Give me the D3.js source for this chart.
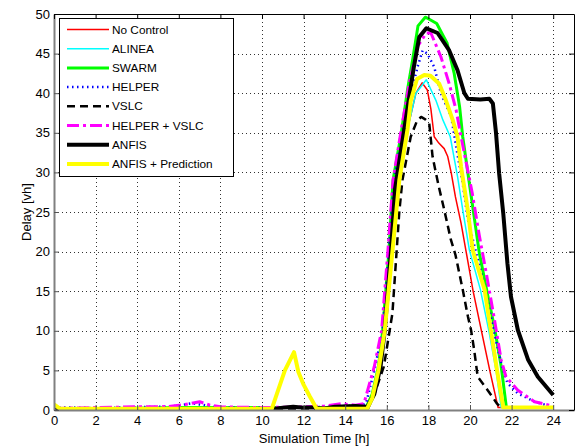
<!DOCTYPE html>
<html>
<head>
<meta charset="utf-8">
<script src="https://cdn.jsdelivr.net/npm/d3@7"></script>
<style>
  html, body { margin: 0; padding: 0; background: #fff; }
  svg { display: block; font-family: "Liberation Sans", Arial, sans-serif; }
</style>
</head>
<body>
<svg id="chart" width="577" height="446"></svg>
<script>
// Traffic delay over the simulated day, one series per control strategy: [hour, delay in vh]
const noControl = [[0,0.2],[3,0.2],[6,0.3],[9,0.3],[12,0.3],[15,0.4],[15.3,2],[15.6,5],[15.9,10],[16.25,20],[16.6,29],[17.0,35.5],[17.4,40],[17.7,41.3],[17.95,40.4],[18.12,38],[18.28,34.5],[18.5,33.7],[18.76,33],[18.93,32],[19.1,29.9],[19.3,26.9],[19.57,23.6],[19.8,20.2],[20.15,15],[20.55,10],[20.95,5],[21.35,0.3],[24,0.3]];
const alinea = [[0,0.2],[3,0.2],[6,0.3],[9,0.3],[12,0.3],[15,0.3],[15.3,2],[15.6,5],[15.9,10],[16.25,20],[16.6,29],[17.0,35.5],[17.4,40],[17.9,41.7],[18.36,39.1],[18.7,36.6],[19.05,34.5],[19.4,29.5],[19.65,25.3],[19.97,20.2],[20.5,15.2],[20.9,10.1],[21.25,5.05],[21.5,0.3],[24,0.3]];
const swarm = [[0,0.2],[3,0.2],[6,0.3],[9,0.3],[12,0.3],[15,0.3],[15.3,2],[15.6,5.5],[15.8,10],[16.1,20],[16.3,29],[16.7,35],[17.0,40.5],[17.24,44.2],[17.5,48.5],[17.85,49.6],[18.0,49.4],[18.4,48.8],[18.9,46.3],[19.24,42.5],[19.5,38.3],[19.65,34.5],[19.97,28.6],[20.2,24.4],[20.45,19.8],[20.85,14.5],[21.17,10.5],[21.5,5.5],[21.75,0.3],[24,0.3]];
const helper = [[0,0.3],[1,0.3],[2,0.25],[3,0.3],[4,0.35],[5,0.4],[5.8,0.5],[6.3,0.7],[6.65,0.85],[7,0.7],[7.5,0.5],[8,0.35],[9,0.3],[10,0.3],[11,0.3],[12,0.35],[13,0.4],[14,0.5],[14.8,0.6],[15.0,0.8],[15.4,5],[15.8,10],[16.1,20],[16.35,29],[16.8,35.5],[17.2,40.5],[17.5,43.5],[17.72,45.4],[17.95,45],[18.28,43.3],[18.6,40],[19.1,37],[19.35,33],[19.65,28.6],[19.9,24],[20.3,19.8],[20.7,15.5],[21.17,9.7],[21.5,5.9],[21.8,3.4],[22.3,2.1],[23.1,1.05],[23.7,0.6]];
const vslc = [[0,0.1],[3,0.1],[6,0.15],[9,0.15],[12,0.15],[15.1,0.2],[15.4,2],[15.86,5.5],[16.27,12.2],[16.6,25],[16.75,29],[17.15,34.5],[17.45,36.5],[17.65,37],[17.85,36.7],[18.04,36.2],[18.2,32],[18.3,30.7],[18.5,28.2],[18.76,25.3],[19.08,21.5],[19.3,19.6],[19.65,15.2],[19.9,11.8],[20.05,10.1],[20.2,7.6],[20.37,4.2],[20.85,2.5],[21.3,0.8],[21.5,0.3]];
const helperVslc = [[0,0.2],[1,0.25],[2,0.3],[3,0.35],[4,0.4],[5,0.4],[5.5,0.45],[6.3,0.7],[7.0,1.05],[7.5,0.6],[8,0.4],[9,0.35],[10,0.3],[11,0.35],[12,0.4],[13,0.5],[13.8,0.8],[14.5,0.6],[14.9,0.8],[15.4,5.5],[15.75,10],[16.05,20],[16.3,29],[16.7,35.5],[17.1,41.5],[17.5,46],[17.9,47.6],[18.12,47.6],[18.6,44.6],[19.0,41.2],[19.33,37.9],[19.57,34.5],[20.1,27.5],[20.45,22],[20.8,17],[21.17,11.5],[21.5,6.3],[21.73,4.2],[22.3,2.5],[23.1,1.05],[24,0.5]];
const anfis = [[0,0.1],[3,0.1],[6,0.1],[9,0.1],[10.5,0.1],[11,0.3],[11.5,0.4],[12,0.3],[12.5,0.3],[13,0.2],[13.5,0.4],[14.5,0.5],[15.0,0.4],[15.1,0.5],[15.4,2],[15.7,5.5],[15.9,10],[16.2,20],[16.4,28],[16.83,35.3],[17.3,43.3],[17.56,47.1],[17.9,48.2],[18.44,47.6],[19.0,45.4],[19.4,42.9],[19.73,40],[19.9,39.3],[20.5,39.2],[20.93,39.3],[21.1,38.7],[21.25,35],[21.4,29.9],[21.6,24.8],[21.8,18.5],[21.97,14.3],[22.3,10.1],[22.8,6.3],[23.26,4.2],[24.0,1.9]];
const anfisPrediction = [[0,0.7],[0.3,0.15],[10.47,0.15],[11.1,5],[11.54,7.3],[11.75,4.8],[12.0,3.2],[12.3,1.7],[12.63,0.15],[15.05,0.15],[15.3,1.5],[15.6,5],[15.9,10],[16.27,20],[16.6,29],[17.0,35.5],[17.15,39],[17.45,41.8],[17.8,42.3],[18.1,42.2],[18.52,41.2],[18.84,39.1],[19.17,36.6],[19.4,34.5],[19.57,30.7],[19.89,25.3],[20.13,20.2],[20.7,15.2],[21.0,10.1],[21.3,5],[21.6,0.3],[24,0.3]];

const seriesNames = ["No Control", "ALINEA", "SWARM", "HELPER", "VSLC", "HELPER + VSLC", "ANFIS", "ANFIS + Prediction"];
const xTicks = [0,2,4,6,8,10,12,14,16,18,20,22,24];
const yTicks = [0,5,10,15,20,25,30,35,40,45,50];

const styles = [
  { color: "#ff0000", width: 1.5, dash: null },
  { color: "#00ffff", width: 1.5, dash: null },
  { color: "#00ff00", width: 3, dash: null },
  { color: "#0000ff", width: 2.5, dash: "1.5,3.5" },
  { color: "#000000", width: 2.5, dash: "8,5" },
  { color: "#ff00ff", width: 3, dash: "12,4,3,4" },
  { color: "#000000", width: 4, dash: null },
  { color: "#ffff00", width: 4, dash: null }
];
const allSeries = [noControl, alinea, swarm, helper, vslc, helperVslc, anfis, anfisPrediction];

const svg = d3.select("#chart");
const plotLeft = 54, plotRight = 574, plotTop = 14, plotBottom = 410;

const x = d3.scaleLinear().domain([0, 25]).range([plotLeft, plotRight]);
const y = d3.scaleLinear().domain([0, 50]).range([plotBottom, plotTop]);

svg.append("defs").append("clipPath").attr("id", "plotClip")
  .append("rect").attr("x", plotLeft).attr("y", plotTop)
  .attr("width", plotRight - plotLeft).attr("height", plotBottom - plotTop);

// dotted grid
const grid = svg.append("g").attr("stroke", "#333").attr("stroke-width", 1).attr("stroke-dasharray", "1,3");
grid.selectAll("line.v").data(xTicks.filter(d => d > 0)).join("line").attr("class", "v")
  .attr("x1", d => Math.round(x(d)) + 0.5).attr("x2", d => Math.round(x(d)) + 0.5)
  .attr("y1", plotTop).attr("y2", plotBottom);
grid.selectAll("line.h").data(yTicks.filter(d => d > 0 && d < 50)).join("line").attr("class", "h")
  .attr("x1", plotLeft).attr("x2", plotRight)
  .attr("y1", d => Math.round(y(d)) + 0.5).attr("y2", d => Math.round(y(d)) + 0.5);

// data lines
const line = d3.line().x(d => x(d[0])).y(d => y(d[1]));
const plot = svg.append("g").attr("clip-path", "url(#plotClip)");
allSeries.forEach((s, i) => {
  plot.append("path").datum(s)
    .attr("fill", "none")
    .attr("stroke", styles[i].color)
    .attr("stroke-width", styles[i].width)
    .attr("stroke-dasharray", styles[i].dash)
    .attr("stroke-linejoin", "round")
    .attr("d", line);
});

// axes
const fontSize = 13;
const xAxis = svg.append("g").attr("transform", `translate(0,${plotBottom})`)
  .call(d3.axisBottom(x).tickValues(xTicks).tickSizeInner(-5).tickSizeOuter(0).tickPadding(6));
const yAxis = svg.append("g").attr("transform", `translate(${plotLeft},0)`)
  .call(d3.axisLeft(y).tickValues(yTicks).tickSizeInner(-5).tickSizeOuter(0).tickPadding(4));
const xTop = svg.append("g").attr("transform", `translate(0,${plotTop})`)
  .call(d3.axisTop(x).tickValues(xTicks).tickSizeInner(-5).tickSizeOuter(0).tickFormat(""));
const yRight = svg.append("g").attr("transform", `translate(${plotRight},0)`)
  .call(d3.axisRight(y).tickValues(yTicks).tickSizeInner(-5).tickSizeOuter(0).tickFormat(""));

[xAxis, yAxis, xTop, yRight].forEach(g => {
  g.selectAll("text").attr("font-size", fontSize).attr("font-family", "Liberation Sans, Arial, sans-serif").attr("fill", "#000");
});
xTop.select(".domain").attr("stroke", "#000").attr("stroke-width", 1);
yRight.select(".domain").attr("stroke", "#000").attr("stroke-width", 1);
xTop.selectAll(".tick line").attr("stroke", "#000");
yRight.selectAll(".tick line").attr("stroke", "#000");
xAxis.select(".domain").attr("stroke", "#808080").attr("stroke-width", 2);
yAxis.select(".domain").attr("stroke", "#808080").attr("stroke-width", 2);
xAxis.selectAll(".tick line").attr("stroke", "#555");
yAxis.selectAll(".tick line").attr("stroke", "#555");

// axis titles
svg.append("text").attr("x", (plotLeft + plotRight) / 2).attr("y", 443)
  .attr("text-anchor", "middle").attr("font-size", 13).text("Simulation Time [h]");
svg.append("text").attr("transform", `translate(31,${(plotTop + plotBottom) / 2}) rotate(-90)`)
  .attr("text-anchor", "middle").attr("font-size", 13).text("Delay [vh]");

// legend
const legend = svg.append("g");
legend.append("rect").attr("x", 59.5).attr("y", 18.5).attr("width", 174).attr("height", 158)
  .attr("fill", "#fff").attr("stroke", "#000").attr("stroke-width", 1);
seriesNames.forEach((name, i) => {
  const ly = 29.5 + i * 19.2;
  legend.append("line").attr("x1", 67).attr("x2", 109).attr("y1", ly).attr("y2", ly)
    .attr("stroke", styles[i].color).attr("stroke-width", styles[i].width)
    .attr("stroke-dasharray", styles[i].dash);
  legend.append("text").attr("x", 112).attr("y", ly).attr("dy", "0.35em")
    .attr("font-size", 11.8).text(name);
});
</script>
</body>
</html>
